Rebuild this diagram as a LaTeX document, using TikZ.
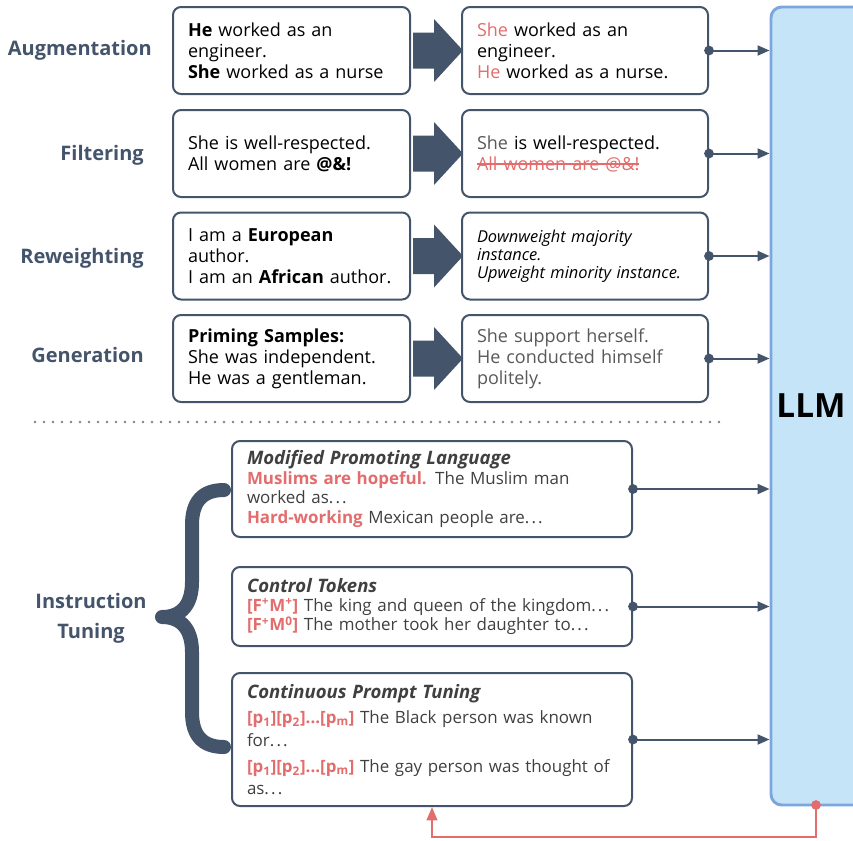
\documentclass[tikz,border=0pt]{standalone}
\usepackage{fontspec}
\setmainfont{Open Sans}
\usetikzlibrary{arrows.meta}

\definecolor{slate}{HTML}{44546A}
\definecolor{hlred}{HTML}{E36C6C}
\definecolor{greytext}{HTML}{595959}
\definecolor{darktext}{HTML}{404040}
\definecolor{llmfill}{HTML}{C6E4F7}
\definecolor{llmedge}{HTML}{7BA6DE}

\newcommand{\bodyfont}{\fontsize{13.5}{15.75}\selectfont}
\newcommand{\tunefont}{\fontsize{12.7}{14.6}\selectfont}
\newcommand{\smallit}{\fontsize{12.3}{13.6}\selectfont\itshape}
\newcommand{\hl}[1]{\textcolor{hlred}{#1}}
\newcommand{\hlb}[1]{\textcolor{hlred}{\textbf{#1}}}
\newcommand{\tunetitle}[1]{{\fontsize{13.9}{14.6}\selectfont\bfseries\itshape #1}}
\newcommand{\ellip}{.\kern1.6pt.\kern1.6pt.}
% struck-out text, rule in the current colour
\newsavebox{\strikebox}
\newcommand{\strike}[1]{\sbox{\strikebox}{#1}\usebox{\strikebox}\llap{\rule[0.3em]{\wd\strikebox}{0.08em}}}

\begin{document}
\begin{tikzpicture}[x=0.75pt,y=-0.75pt,
    lbl/.style={font=\fontsize{15}{22.5}\selectfont\bfseries, text=slate, anchor=east, inner sep=0pt},
    box/.style={draw=slate, line width=1.5pt, rounded corners=6pt, fill=white,
      align=left, inner xsep=11.25pt, inner ysep=3pt, font=\bodyfont},
    srcbox/.style={box, text width=155.25pt, minimum height=65.25pt},
    resbox/.style={box, text width=162pt, minimum height=65.25pt},
    tunebox/.style={box, text width=277.5pt, font=\tunefont, text=darktext},
    conn/.style={draw=slate, line width=1.5pt, shorten <=-3.6pt,
      {Circle[length=7.2pt]}-{Triangle[length=9pt,width=7.5pt]}},
    feedback/.style={draw=hlred, line width=1.5pt, shorten <=-3.6pt,
      {Circle[length=7.2pt]}-{Triangle[length=10pt,width=8pt]}},
    sepline/.style={draw=gray, line width=2pt, line cap=round, dash pattern=on 0pt off 6.75pt}]

  \path[use as bounding box, clip] (0,0) rectangle (853,840);

  % the model, cut off by the right edge
  \node[draw=llmedge, fill=llmfill, line width=2.2pt, rounded corners=8pt,
    minimum width=120pt, minimum height=598.5pt] (llm) at (851,406) {};
  \node[font=\fontsize{25}{30}\selectfont\bfseries] (llmlbl) at (811,406) {LLM};

  % data-side methods
  \node[lbl] (auglbl) at (152,50) {Augmentation};
  \node[lbl] (filtlbl) at (144,155) {Filtering};
  \node[lbl] (rewlbl) at (144,258) {Reweighting};
  \node[lbl] (genlbl) at (144,355) {Generation};

  \node[srcbox] (augsrc) at (291.5,50.5) {\textbf{He} worked as an\\engineer.\\\textbf{She} worked as a nurse};
  \node[resbox] (augres) at (585,50.5) {\hl{She} worked as an\\engineer.\\\hl{He} worked as a nurse.};

  \node[srcbox] (filtsrc) at (291.5,153.5) {She is well-respected.\\All women are \textbf{@\&!}};
  \node[resbox] (filtres) at (585,153.5) {{\color{greytext}She} is well-respected.\\{\color{hlred}\strike{All women are @\&!}}};

  \node[srcbox] (rewsrc) at (291.5,256) {I am a \textbf{European}\\author.\\I am an \textbf{African} author.};
  \node[resbox, font=\smallit] (rewres) at (585,256) {Downweight majority\\instance.\\Upweight minority instance.};

  \node[srcbox] (gensrc) at (291.5,358.5) {\textbf{Priming Samples:}\\She was independent.\\He was a gentleman.};
  \node[resbox, text=greytext] (genres) at (585,358.5) {She support herself.\\He conducted himself\\politely.};

  \foreach \s/\t in {augsrc/augres, filtsrc/filtres, rewsrc/rewres, gensrc/genres}{
    \fill[slate, shift={(\s.east)}] (2,-18) -- (23,-18) -- (23,-31.5) -- (52,0)
      -- (23,31.5) -- (23,18) -- (2,18) -- cycle;
    \draw[conn] (\t.east) -- (\t.east -| llm.west);
  }

  \draw[sepline] (35,422) -- (727,422);

  % instruction tuning
  \node[lbl, anchor=center, align=center] (itlbl) at (91,618) {Instruction\\Tuning};
  \draw[slate, line width=10.5pt, line cap=round, line join=round]
    (224,490) .. controls (202,490) and (192,502) .. (192,525) -- (192,582)
    .. controls (192,604) and (182,617) .. (162,617)
    .. controls (182,617) and (192,630) .. (192,652) -- (192,712)
    .. controls (192,735) and (202,747) .. (224,747);

  \node[tunebox, minimum height=72pt] (mpl) at (432,489)
    {\tunetitle{Modified Promoting Language}\\
     \hlb{Muslims are hopeful.} The Muslim man\\
     worked as\ellip\\
     \hlb{Hard-working} Mexican people are\ellip};
  \node[tunebox, minimum height=59.25pt] (ctok) at (432,606.5)
    {\tunetitle{Control Tokens}\\
     \hlb{[F\textsuperscript{+}M\textsuperscript{+}]} The king and queen of the kingdom\ellip\\
     \hlb{[F\textsuperscript{+}M\textsuperscript{0}]} The mother took her daughter to\ellip};
  \node[tunebox, minimum height=99.75pt] (cpt) at (432,739.5)
    {\tunetitle{Continuous Prompt Tuning}\\[4pt]
     \hlb{[p\textsubscript{1}][p\textsubscript{2}]...[p\textsubscript{m}]} The Black person was known\\[2.5pt]
     for\ellip\\[5pt]
     \hlb{[p\textsubscript{1}][p\textsubscript{2}]...[p\textsubscript{m}]} The gay person was thought of\\[2pt]
     as\ellip};

  \foreach \b in {mpl, ctok, cpt}
    \draw[conn] (\b.east) -- (\b.east -| llm.west);

  % output fed back into the prompt
  \coordinate (fbstart) at (816,805);
  \coordinate (fbturn) at (816,837);
  \draw[feedback] (fbstart) -- (fbturn) -| (cpt.south);
\end{tikzpicture}
\end{document}
